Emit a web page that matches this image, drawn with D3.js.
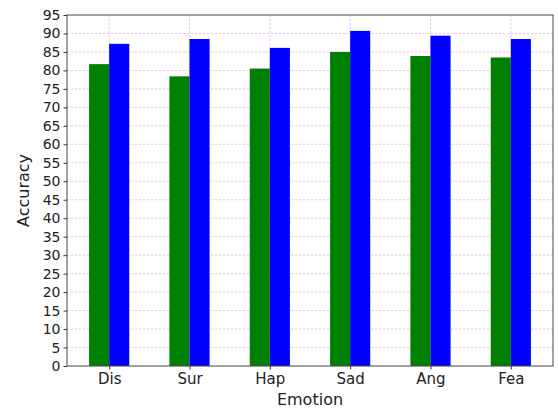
<!DOCTYPE html>
<html>
<head>
<meta charset="utf-8">
<script src="https://cdn.jsdelivr.net/npm/d3@7"></script>
<style>
  body { margin: 0; background: #fff; }
  text { font-family: "DejaVu Sans", sans-serif; fill: #222; }
</style>
</head>
<body>
<svg id="chart" width="558" height="409"></svg>
<script>
// chart data
const emotions = ['Dis', 'Sur', 'Hap', 'Sad', 'Ang', 'Fea'];
const greenValues = [81.7, 78.4, 80.5, 85.0, 83.9, 83.5];
const blueValues = [87.2, 88.5, 86.1, 90.7, 89.4, 88.5];
const yTicks = d3.range(0, 96, 5);

// small stand-in for d3-selection-multi's .attrs()
d3.selection.prototype.attrs = function (map) {
  Object.keys(map).forEach((k) => this.attr(k, map[k]));
  return this;
};

const svg = d3.select('#chart');
const margin = { left: 67, right: 5, top: 15, bottom: 43 };
const width = 558 - margin.left - margin.right;
const height = 409 - margin.top - margin.bottom;
const g = svg.append('g').attr('transform', `translate(${margin.left},${margin.top})`);

// matplotlib style: bars at integer positions, 5% margin on x
const barW = 0.25;
const x = d3.scaleLinear().domain([-0.525, emotions.length - 1 + 0.525]).range([0, width]);
const y = d3.scaleLinear().domain([0, 95]).range([height, 0]);

// grid
const gridColor = '#ee82ee';
g.append('g').selectAll('line').data(yTicks.slice(1, -1)).enter().append('line')
  .attrs({
    x1: 0, x2: width, y1: d => y(d), y2: d => y(d),
    stroke: gridColor, 'stroke-width': 0.8, 'stroke-dasharray': '2.5,1.5', opacity: 0.6,
  });
g.append('g').selectAll('line').data(emotions).enter().append('line')
  .attrs({
    x1: (d, i) => x(i), x2: (d, i) => x(i), y1: 0, y2: height,
    stroke: gridColor, 'stroke-width': 0.8, 'stroke-dasharray': '2.5,1.5', opacity: 0.6,
  });

// bars
g.append('g').selectAll('rect').data(greenValues).enter().append('rect')
  .attrs({
    x: (d, i) => x(i - barW), width: x(barW) - x(0),
    y: d => y(d), height: d => height - y(d), fill: 'green',
  });
g.append('g').selectAll('rect').data(blueValues).enter().append('rect')
  .attrs({
    x: (d, i) => x(i), width: x(barW) - x(0),
    y: d => y(d), height: d => height - y(d), fill: 'blue',
  });

// axes
const yAxis = g.append('g').call(d3.axisLeft(y).tickValues(yTicks).tickSize(3.5).tickPadding(3));
const xAxis = g.append('g').attr('transform', `translate(0,${height})`)
  .call(d3.axisBottom(x).tickValues(d3.range(emotions.length))
    .tickFormat(i => emotions[i]).tickSize(3.5).tickPadding(4));
[yAxis, xAxis].forEach((ax) => {
  ax.select('.domain').remove();
  ax.selectAll('line').attr('stroke', '#333');
  ax.selectAll('text').style('font-family', '"DejaVu Sans", sans-serif').attr('fill', '#222');
});
yAxis.selectAll('text').style('font-size', '14px');
xAxis.selectAll('text').style('font-size', '15px');

// frame
g.append('rect').attrs({
  x: 0, y: 0, width, height, fill: 'none', stroke: '#444', 'stroke-width': 1,
});

// labels
svg.append('text').attr('x', margin.left + width / 2).attr('y', 405)
  .attr('text-anchor', 'middle').style('font-size', '16px').text('Emotion');
svg.append('text').attr('transform', `translate(29,${margin.top + height / 2}) rotate(-90)`)
  .attr('text-anchor', 'middle').style('font-size', '16px').text('Accuracy');
</script>
</body>
</html>
